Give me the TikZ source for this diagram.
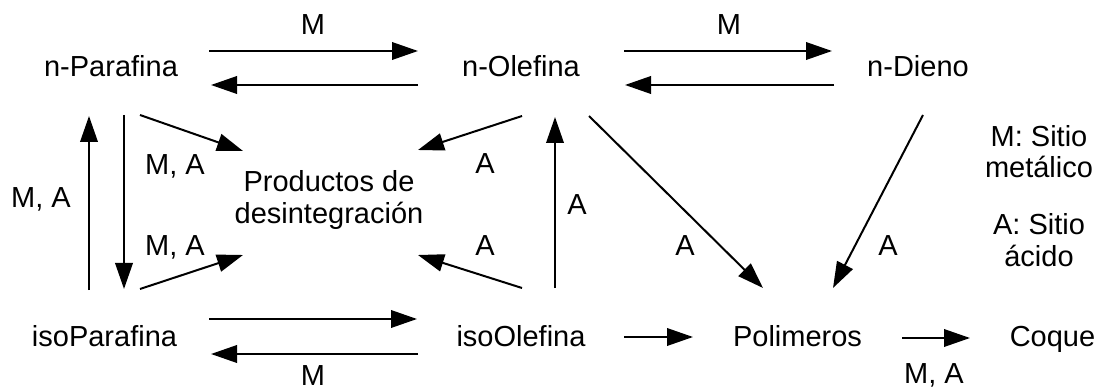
\documentclass[tikz,border=0pt]{standalone}
\usepackage{fontspec}
\setmainfont{Liberation Sans}
\usetikzlibrary{arrows.meta}
\begin{document}
\begin{tikzpicture}[x=1pt,y=-1pt,
  species/.style={font=\fontsize{29}{32}\selectfont, inner sep=0pt, align=center},
  site/.style={font=\fontsize{29}{32}\selectfont, inner sep=0pt, anchor=base},
  arr/.style={line width=2pt, -{Triangle[length=26pt,width=17.5pt]}}]
\useasboundingbox (0,0) rectangle (1098,390);

% species (positions are baselines)
\node[species, anchor=base] (np)  at (111,77)   {n-Parafina};
\node[species, anchor=base] (no)  at (521,77)   {n-Olefina};
\node[species, anchor=base] (nd)  at (918,77)   {n-Dieno};
\node[species, anchor=base] (ip)  at (104.5,346) {isoParafina};
\node[species, anchor=base] (io)  at (521,346)  {isoOlefina};
\node[species, anchor=base] (pol) at (797.5,346) {Polimeros};
\node[species, anchor=base] (coq) at (1052.5,346) {Coque};
\node[species] (prod) at (329,200.5) {Productos de\\desintegración};

% legend
\node[site] (legM1) at (1039,147) {M: Sitio};
\node[site] (legM2) at (1039,178) {metálico};
\node[site] (legA1) at (1039,235) {A: Sitio};
\node[site] (legA2) at (1039,267) {ácido};

% connector end points
\coordinate (npR1) at (209,51);  \coordinate (noL1) at (418,51);
\coordinate (noL2) at (418,85);  \coordinate (npR2) at (211,85);
\coordinate (noR1) at (624,51);  \coordinate (ndL1) at (832,51);
\coordinate (ndL2) at (834,85);  \coordinate (noR2) at (625,85);
\coordinate (ipR1) at (209,319); \coordinate (ioL1) at (417,319);
\coordinate (ioL2) at (418,354); \coordinate (ipR2) at (211,354);
\coordinate (ipUp) at (89,290);  \coordinate (npDn) at (89,116);
\coordinate (npV)  at (124,115); \coordinate (ipV)  at (124,289);
\coordinate (npD)  at (140,115); \coordinate (prodNW) at (243,151);
\coordinate (noD)  at (522,116); \coordinate (prodNE) at (418,150);
\coordinate (ipD)  at (140,289); \coordinate (prodSW) at (243,255);
\coordinate (ioD)  at (522,288); \coordinate (prodSE) at (418,255);
\coordinate (ioV)  at (555,288); \coordinate (noV)  at (555,117);
\coordinate (noP)  at (589,116); \coordinate (polNW) at (763,288);
\coordinate (ndP)  at (923,115); \coordinate (polNE) at (833,288);
\coordinate (ioR)  at (624,337); \coordinate (polL) at (693,337);
\coordinate (polR) at (902,338); \coordinate (coqL) at (970,338);

% connectors
\draw[arr] (npR1) -- (noL1);
\draw[arr] (noL2) -- (npR2);
\draw[arr] (noR1) -- (ndL1);
\draw[arr] (ndL2) -- (noR2);
\draw[arr] (ipR1) -- (ioL1);
\draw[arr] (ioL2) -- (ipR2);
\draw[arr] (ipUp) -- (npDn);
\draw[arr] (npV) -- (ipV);
\draw[arr] (npD) -- (prodNW);
\draw[arr] (noD) -- (prodNE);
\draw[arr] (ipD) -- (prodSW);
\draw[arr] (ioD) -- (prodSE);
\draw[arr] (ioV) -- (noV);
\draw[arr] (noP) -- (polNW);
\draw[arr] (ndP) -- (polNE);
\draw[arr] (ioR) -- (polL);
\draw[arr] (polR) -- (coqL);

% catalyst-site labels (positions are baselines)
\node[site] (m1)  at (313,35)  {M};
\node[site] (m2)  at (729,35)  {M};
\node[site] (m3)  at (313,385) {M};
\node[site] (ma1) at (41,208)  {M, A};
\node[site] (ma2) at (175,175) {M, A};
\node[site] (ma3) at (175,255) {M, A};
\node[site] (ma4) at (934,383) {M, A};
\node[site] (a1)  at (485,174) {A};
\node[site] (a2)  at (485,256) {A};
\node[site] (a3)  at (577,215) {A};
\node[site] (a4)  at (685,256) {A};
\node[site] (a5)  at (888,255) {A};
\end{tikzpicture}
\end{document}
